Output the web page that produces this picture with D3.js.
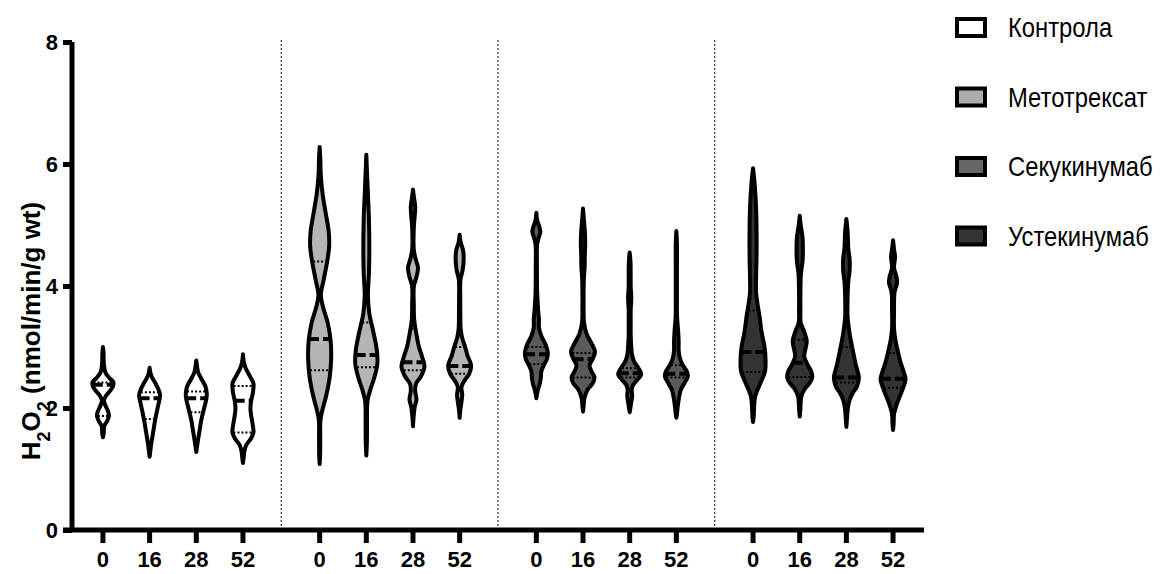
<!DOCTYPE html>
<html>
<head>
<meta charset="utf-8">
<script src="https://cdn.jsdelivr.net/npm/d3@7"></script>
<style>
  body { margin: 0; background: #fff; }
  svg { display: block; }
  .tick-label { font-family: "Liberation Sans", Arial, sans-serif; font-weight: bold; }
  .legend-label { font-family: "Liberation Sans", Arial, sans-serif; }
</style>
</head>
<body>
<div id="chart"></div>
<script>
const width = 1168, height = 574;

// groups and time points
const treatments = ["Контрола", "Метотрексат", "Секукинумаб", "Устекинумаб"];
const weeks = ["0", "16", "28", "52"];
const fills = ["#ffffff", "#b5b5b5", "#5a5a5a", "#333333"];
const legendFills = ["#ffffff", "#adadad", "#666666", "#343434"];
const yTicks = [0, 2, 4, 6, 8];

// violin outlines: [value, relative half width], one list per week
const kontrolaProfiles = [
  [[3.0,0],[2.9,0.6],[2.7,1],[2.58,2.5],[2.5,6],[2.42,10.5],[2.35,10],[2.28,7],[2.2,3],[2.12,1],[2.04,2.5],[1.95,5],[1.87,6],[1.78,4],[1.7,1.2],[1.6,0.8],[1.52,0]],
  [[2.66,0],[2.58,0.8],[2.5,2.5],[2.4,6],[2.3,9],[2.22,10.5],[2.15,10],[2.0,8],[1.8,5.5],[1.6,3.5],[1.4,1.5],[1.28,0.6],[1.2,0]],
  [[2.78,0],[2.68,0.8],[2.58,2],[2.48,5],[2.36,9],[2.24,10.5],[2.14,10],[2.04,8.5],[1.94,7],[1.8,5],[1.6,3],[1.42,1.2],[1.28,0]],
  [[2.88,0],[2.76,0.8],[2.66,2.5],[2.52,7],[2.4,10.5],[2.26,10],[2.1,8],[1.98,7.5],[1.85,8.5],[1.7,10],[1.6,10.5],[1.5,8],[1.4,3.5],[1.3,1.5],[1.2,0.8],[1.1,0]]
];
const metotreksatProfiles = [
  [[6.28,0],[6.1,0.6],[5.8,1.2],[5.5,3],[5.2,6],[4.9,9],[4.65,9.5],[4.4,7.5],[4.1,4],[3.85,1.2],[3.65,3.5],[3.4,8],[3.1,11],[2.8,11.5],[2.5,10],[2.2,6.5],[1.95,2.5],[1.8,0.8],[1.5,0.6],[1.25,0.5],[1.08,0]],
  [[6.15,0],[5.9,0.6],[5.5,1.6],[5.1,2.6],[4.6,3],[4.2,2.6],[3.85,1.6],[3.55,3],[3.25,7],[2.95,10.5],[2.72,11],[2.5,8],[2.3,4],[2.12,1.2],[1.8,0.7],[1.45,0.6],[1.22,0]],
  [[5.58,0],[5.45,1],[5.3,2.2],[5.12,1.6],[4.95,0.8],[4.6,0.8],[4.45,2.5],[4.3,5],[4.15,3.5],[4.0,0.9],[3.7,0.8],[3.45,1.2],[3.25,3],[3.0,6],[2.82,9.5],[2.68,11.5],[2.52,8],[2.4,3],[2.28,2.2],[2.14,3.5],[2.02,1.8],[1.85,0.6],[1.7,0]],
  [[4.84,0],[4.72,1],[4.58,3.5],[4.42,4],[4.26,3],[4.1,0.8],[3.8,0.6],[3.5,0.7],[3.3,1],[3.15,2.5],[3.0,5.5],[2.85,8],[2.7,11.5],[2.56,9.5],[2.44,4.5],[2.34,1.8],[2.22,2.6],[2.1,1.8],[1.96,0.6],[1.84,0]]
];
const sekukinumabProfiles = [
  [[5.2,0],[5.08,0.8],[4.97,3],[4.89,4],[4.8,2.5],[4.68,0.8],[4.3,0.6],[3.9,0.8],[3.6,1.8],[3.45,2.6],[3.32,2.6],[3.18,5],[3.03,9.5],[2.9,11.5],[2.8,10.5],[2.7,7.5],[2.6,5],[2.5,4.5],[2.4,3.5],[2.3,1.6],[2.22,0.6],[2.16,0]],
  [[5.27,0],[5.1,0.8],[4.9,1.8],[4.7,2.2],[4.5,1.8],[4.3,1.6],[4.1,0.8],[3.7,0.6],[3.4,1],[3.22,3.5],[3.06,8.5],[2.92,12],[2.8,9.5],[2.7,6.5],[2.6,8.5],[2.5,11.5],[2.4,9.5],[2.3,4.5],[2.16,1.4],[2.05,0.7],[1.94,0]],
  [[4.55,0],[4.4,0.8],[4.2,1],[4.0,1],[3.8,1.6],[3.6,1],[3.4,1],[3.2,1],[3.0,1.6],[2.86,2.5],[2.76,4.5],[2.66,8.5],[2.55,11.5],[2.46,7.5],[2.38,3.5],[2.3,2],[2.2,2.5],[2.1,1.6],[2.0,0.7],[1.93,0]],
  [[4.9,0],[4.7,0.6],[4.3,0.6],[3.9,0.6],[3.5,0.7],[3.26,1.8],[3.1,2.3],[2.95,2.3],[2.82,3.5],[2.7,6.5],[2.6,10.5],[2.52,11.5],[2.42,8.5],[2.3,4.5],[2.2,3],[2.1,2],[2.0,1.2],[1.9,0.6],[1.84,0]]
];
const ustekinumabProfiles = [
  [[5.93,0],[5.7,1.5],[5.3,3],[4.9,3.5],[4.5,3.5],[4.1,3],[3.9,3],[3.7,4.5],[3.5,6.5],[3.25,8.5],[3.0,11.5],[2.8,12.5],[2.6,12],[2.45,8.5],[2.3,4.5],[2.18,2],[2.0,1],[1.85,0.6],[1.77,0]],
  [[5.15,0],[5.0,1],[4.8,2.8],[4.6,3.2],[4.4,2.8],[4.2,1.2],[3.9,0.7],[3.6,0.7],[3.4,1],[3.25,4.5],[3.1,7],[2.95,5.5],[2.85,4.5],[2.72,7.5],[2.6,11.5],[2.5,12.5],[2.4,9.5],[2.3,4.5],[2.18,1.5],[2.0,0.7],[1.86,0]],
  [[5.1,0],[4.9,1.2],[4.6,2],[4.45,3.2],[4.25,3.2],[4.05,1.8],[3.8,1.2],[3.5,1.2],[3.3,2.5],[3.1,4.5],[2.9,7],[2.7,9.5],[2.5,12.5],[2.35,10.5],[2.25,6.5],[2.12,3],[2.0,1.5],[1.85,0.7],[1.69,0]],
  [[4.75,0],[4.6,1],[4.48,2],[4.3,1],[4.15,3.5],[4.05,4],[3.9,1.5],[3.6,1],[3.3,1],[3.1,2.5],[2.95,4.5],[2.75,7.5],[2.6,10.5],[2.47,12.5],[2.35,10.5],[2.2,7],[2.05,3.5],[1.9,1],[1.75,0.6],[1.64,0]]
];
const profiles = [kontrolaProfiles, metotreksatProfiles, sekukinumabProfiles, ustekinumabProfiles];

// medians and quartiles per group, per week
const medians = [[2.38, 2.16, 2.16, 2.12], [3.13, 2.87, 2.75, 2.69], [2.88, 2.8, 2.57, 2.56], [2.92, 2.74, 2.5, 2.48]];
const lowerQuartiles = [[1.87, 1.82, 1.93, 1.6], [2.62, 2.67, 2.62, 2.56], [2.72, 2.5, 2.5, 2.5], [2.59, 2.51, 2.42, 2.33]];
const upperQuartiles = [[2.42, 2.26, 2.27, 2.36], [4.4, 3.4, 3.3, 3.0], [3.0, 2.9, 2.65, 2.7], [3.6, 3.12, 3.0, 2.9]];

const svg = d3.select("#chart").append("svg")
  .attr("width", width)
  .attr("height", height);

const yScale = d3.scaleLinear().domain([0, 8]).range([530, 42]);
const xGroup = d3.scaleBand().domain(treatments).range([64.6, 931.4]);
const xWeek = d3.scalePoint().domain(weeks).range([-70, 70]);
const wScale = d3.scaleLinear().domain([0, 14]).range([0, 14]);
const xPos = (g, w) => xGroup(g) + xGroup.bandwidth() / 2 + xWeek(w);

// dotted separators between groups
svg.append("g")
  .selectAll("line")
  .data(treatments.slice(1))
  .join("line")
    .attr("x1", d => xGroup(d)).attr("x2", d => xGroup(d))
    .attr("y1", 40).attr("y2", 528)
    .attr("stroke", "#444")
    .attr("stroke-width", 1.3)
    .attr("stroke-dasharray", "2,2");

// half width at a value, from the read outline
const widthAt = (prof, v) => {
  for (let i = 0; i < prof.length - 1; i++) {
    const a = prof[i], b = prof[i + 1];
    if (v <= a[0] && v >= b[0]) {
      const t = (a[0] - v) / (a[0] - b[0]);
      return a[1] + t * (b[1] - a[1]);
    }
  }
  return 0;
};

treatments.forEach((g, gi) => {
  weeks.forEach((w, wi) => {
    const cx = xPos(g, w);
    const prof = profiles[gi][wi];
    const area = d3.area()
      .y(d => yScale(d[0]))
      .x0(d => cx - wScale(d[1]))
      .x1(d => cx + wScale(d[1]))
      .curve(d3.curveCatmullRom);

    const vg = svg.append("g");
    vg.append("path")
      .attr("d", area(prof))
      .attr("fill", fills[gi])
      .attr("stroke", "#000")
      .attr("stroke-width", 4)
      .attr("stroke-linejoin", "round");

    [lowerQuartiles[gi][wi], upperQuartiles[gi][wi]].forEach(q => {
      const hw = wScale(widthAt(prof, q));
      vg.append("line")
        .attr("x1", cx - hw + 1).attr("x2", cx + hw - 1)
        .attr("y1", yScale(q)).attr("y2", yScale(q))
        .attr("stroke", "#000")
        .attr("stroke-width", 2)
        .attr("stroke-dasharray", "2,2");
    });

    const m = medians[gi][wi];
    const mw = wScale(widthAt(prof, m));
    vg.append("line")
      .attr("x1", cx - mw).attr("x2", cx + mw)
      .attr("y1", yScale(m)).attr("y2", yScale(m))
      .attr("stroke", "#000")
      .attr("stroke-width", 4)
      .attr("stroke-dasharray", "10,4");
  });
});

// y axis
const yAxis = svg.append("g")
  .attr("transform", "translate(72,0)")
  .call(d3.axisLeft(yScale).tickValues(yTicks).tickSize(9).tickPadding(5).tickFormat(d3.format("d")));
yAxis.select(".domain").attr("stroke-width", 5).attr("d", "M0,42V532");
yAxis.selectAll(".tick line").attr("stroke-width", 5);
yAxis.selectAll(".tick text")
  .attr("class", "tick-label")
  .style("font-size", "22px")
  .attr("fill", "#000");

// x axis: one tick per week in every group
const xTickData = [];
treatments.forEach(g => weeks.forEach(w => xTickData.push({ g, w })));

svg.append("line")
  .attr("x1", 63).attr("x2", 924)
  .attr("y1", 530).attr("y2", 530)
  .attr("stroke", "#000")
  .attr("stroke-width", 5);

const xt = svg.append("g")
  .selectAll("g")
  .data(xTickData)
  .join("g")
    .attr("transform", d => `translate(${xPos(d.g, d.w)},530)`);
xt.append("line")
  .attr("y1", 0).attr("y2", 13)
  .attr("stroke", "#000")
  .attr("stroke-width", 5);
xt.append("text")
  .attr("class", "tick-label")
  .attr("y", 37)
  .attr("text-anchor", "middle")
  .style("font-size", "22px")
  .text(d => d.w);

// y title with subscripts
const yTitle = svg.append("text")
  .attr("class", "tick-label")
  .attr("transform", "translate(40,331) rotate(-90)")
  .attr("text-anchor", "middle")
  .style("font-size", "26px");
yTitle.append("tspan").text("H");
yTitle.append("tspan").attr("baseline-shift", "sub").style("font-size", "18px").text("2");
yTitle.append("tspan").text("O");
yTitle.append("tspan").attr("baseline-shift", "sub").style("font-size", "18px").text("2");
yTitle.append("tspan").text(" (nmol/min/g wt)");

// legend
const legend = svg.append("g")
  .selectAll("g")
  .data(treatments)
  .join("g")
    .attr("transform", (d, i) => `translate(0,${27 + i * 69.5})`);
legend.append("rect")
  .attr("x", 957).attr("y", -8)
  .attr("width", 28).attr("height", 17)
  .attr("fill", (d, i) => legendFills[i])
  .attr("stroke", "#000")
  .attr("stroke-width", 4);
legend.append("text")
  .attr("class", "legend-label")
  .attr("transform", "translate(1008,10) scale(0.85,1)")
  .style("font-size", "28px")
  .text(d => d);
</script>
</body>
</html>
